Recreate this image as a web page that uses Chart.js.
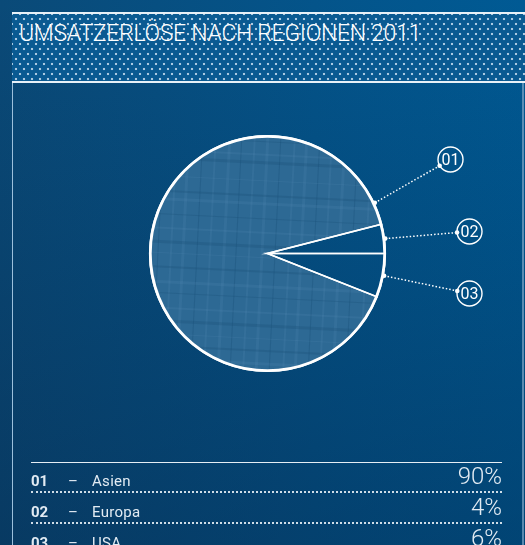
<!DOCTYPE html>
<html><head><meta charset="utf-8">
<script src="https://cdn.jsdelivr.net/npm/chart.js@4"></script>
<style>
html,body{margin:0;padding:0;}
body{width:525px;height:545px;overflow:hidden;position:relative;
 background:linear-gradient(to bottom, rgba(0,0,0,0) 0%, rgba(4,28,58,0.35) 100%), linear-gradient(to right,#0a4a78 0%,#04548a 60%,#005a94 100%);
 font-family:Roboto,"Open Sans",sans-serif;color:#fff;}
#frameL{position:absolute;left:12px;top:12px;width:1px;height:533px;background:#9cc0dc;}
#frameR{position:absolute;left:522px;top:12px;width:2px;height:533px;background:#7ea7c8;opacity:.7}
#header{position:absolute;left:12px;top:12px;width:513px;height:67px;border-top:2px solid #e8f1f8;border-bottom:2px solid #e8f1f8;
 background-color:#0a5a92;
 background-image:radial-gradient(circle, rgba(200,222,240,0.85) 1px, rgba(0,0,0,0) 1.6px), radial-gradient(circle, rgba(200,222,240,0.85) 1px, rgba(0,0,0,0) 1.6px);
 background-size:8px 10px,8px 10px;background-position:0 0,4px 5px;}
#title{position:absolute;left:19px;top:19px;font-size:23px;font-weight:300;letter-spacing:-0.3px;white-space:nowrap;font-family:Roboto,sans-serif;line-height:30px;}
#chartWrap{position:absolute;left:0;top:0;width:525px;height:545px;}
#table{position:absolute;left:31px;top:462px;width:471px;border-top:1.5px solid #e6eef5;}
.row{position:relative;height:28px;border-bottom:2px dotted rgba(230,238,245,0.9);margin-bottom:1px;}
.row span{position:absolute;top:9px;font-size:15px;color:#e2ebf3;}
.num{left:0;font-weight:700;}
.dash{left:37px;}
.name{left:61px;letter-spacing:0.3px}
.pct{right:0;top:-1px !important;font-size:24px !important;font-weight:300;}
</style></head>
<body>
<div id="chartWrap"><canvas id="c" width="525" height="545"></canvas></div>
<div id="frameL"></div>
<div id="frameR"></div>
<div id="header"></div>
<div id="title">UMSATZERLÖSE NACH REGIONEN 2011</div>
<div id="table"></div>
<script>
const categories = ["Asien", "Europa", "USA"];
const codes = ["01", "02", "03"];
const shares = [90, 4, 6];

// table
const table = document.getElementById('table');
categories.forEach((c, i) => {
  const r = document.createElement('div');
  r.className = 'row';
  r.innerHTML = '<span class="num">' + codes[i] + '</span><span class="dash">–</span><span class="name">' + c + '</span><span class="pct">' + shares[i] + '%</span>';
  table.appendChild(r);
});

// subtle texture for the main slice (one big tile, no visible seams)
function makeTexture() {
  const W = 525, H = 545;
  const cv = document.createElement('canvas');
  cv.width = W; cv.height = H;
  const g = cv.getContext('2d');
  g.fillStyle = '#2d6994';
  g.fillRect(0, 0, W, H);
  const v = [158, 171, 183, 197, 210, 224, 236, 249, 262, 275, 289, 301, 314, 326, 339, 352, 366, 378];
  const h = [142, 155, 163, 181, 196, 204, 219, 233, 247, 258, 272, 287, 298, 313, 326, 339, 351, 364];
  g.save();
  g.translate(268, 254); g.rotate(0.05); g.translate(-268, -254);
  v.forEach((p, i) => {
    g.strokeStyle = i % 3 === 0 ? 'rgba(25,80,120,0.35)' : 'rgba(110,160,200,0.12)';
    g.lineWidth = (i % 3) + 1;
    g.beginPath(); g.moveTo(p, 100); g.lineTo(p, 420); g.stroke();
  });
  h.forEach((p, i) => {
    g.strokeStyle = i % 2 === 0 ? 'rgba(25,80,120,0.28)' : 'rgba(110,160,200,0.12)';
    g.lineWidth = (i % 3) + 1;
    g.beginPath(); g.moveTo(120, p); g.lineTo(420, p); g.stroke();
  });
  g.restore();
  return g.createPattern(cv, 'no-repeat');
}
const ctx = document.getElementById('c').getContext('2d');
const texture = makeTexture();

const callouts = {
  id: 'callouts',
  afterDatasetsDraw(chart) {
    const meta = chart.getDatasetMeta(0);
    const c = chart.ctx;
    const a0 = meta.data[0].getProps(['x', 'y', 'outerRadius']);
    c.save();
    c.strokeStyle = '#ffffff';
    c.lineWidth = 2.8;
    c.beginPath(); c.arc(a0.x, a0.y, a0.outerRadius - 0.5, 0, Math.PI * 2); c.stroke();
    c.restore();
    const place = [
      {dx: 183, dy: -94, endShift: -0.19, useEnd: true},
      {dx: 202, dy: -22},
      {dx: 202, dy: 40}
    ];
    meta.data.forEach((arc, i) => {
      const p = arc.getProps(['x', 'y', 'startAngle', 'endAngle', 'outerRadius']);
      const pl = place[i];
      const ang = pl.useEnd ? p.endAngle + pl.endShift : (p.startAngle + p.endAngle) / 2;
      const ax = p.x + Math.cos(ang) * (p.outerRadius + 1);
      const ay = p.y + Math.sin(ang) * (p.outerRadius + 1);
      const lx = p.x + pl.dx, ly = p.y + pl.dy;
      const R = 12.5;
      const dl = Math.hypot(lx - ax, ly - ay);
      const ex = lx - (lx - ax) / dl * R, ey = ly - (ly - ay) / dl * R;
      c.save();
      c.strokeStyle = '#ffffff';
      c.fillStyle = '#ffffff';
      c.lineWidth = 1.5;
      c.setLineDash([1.5, 2]);
      c.beginPath(); c.moveTo(ax, ay); c.lineTo(ex, ey); c.stroke();
      c.setLineDash([]);
      c.beginPath(); c.arc(ax, ay, 2.3, 0, Math.PI * 2); c.fill();
      c.beginPath(); c.arc(ex, ey, 2.3, 0, Math.PI * 2); c.fill();
      c.lineWidth = 1.4;
      c.beginPath(); c.arc(lx, ly, R, 0, Math.PI * 2); c.stroke();
      c.font = '400 16px Roboto, sans-serif';
      c.textAlign = 'center'; c.textBaseline = 'middle';
      c.fillText(codes[i], lx, ly + 1);
      c.restore();
    });
  }
};

new Chart(ctx, {
  type: 'pie',
  data: {
    labels: categories,
    datasets: [{
      data: shares,
      backgroundColor: [texture, 'rgba(0,0,0,0)', 'rgba(0,0,0,0)'],
      borderColor: '#ffffff',
      borderWidth: 1.6,
      borderAlign: 'center',
      borderJoinStyle: 'miter'
    }]
  },
  options: {
    responsive: false,
    animation: false,
    rotation: 90 + shares[2] * 3.6,
    layout: {padding: {left: 149, right: 139, top: 135, bottom: 173}},
    plugins: {legend: {display: false}, tooltip: {enabled: false}, title: {display: false}},
    events: []
  },
  plugins: [callouts]
});
</script>
</body></html>
